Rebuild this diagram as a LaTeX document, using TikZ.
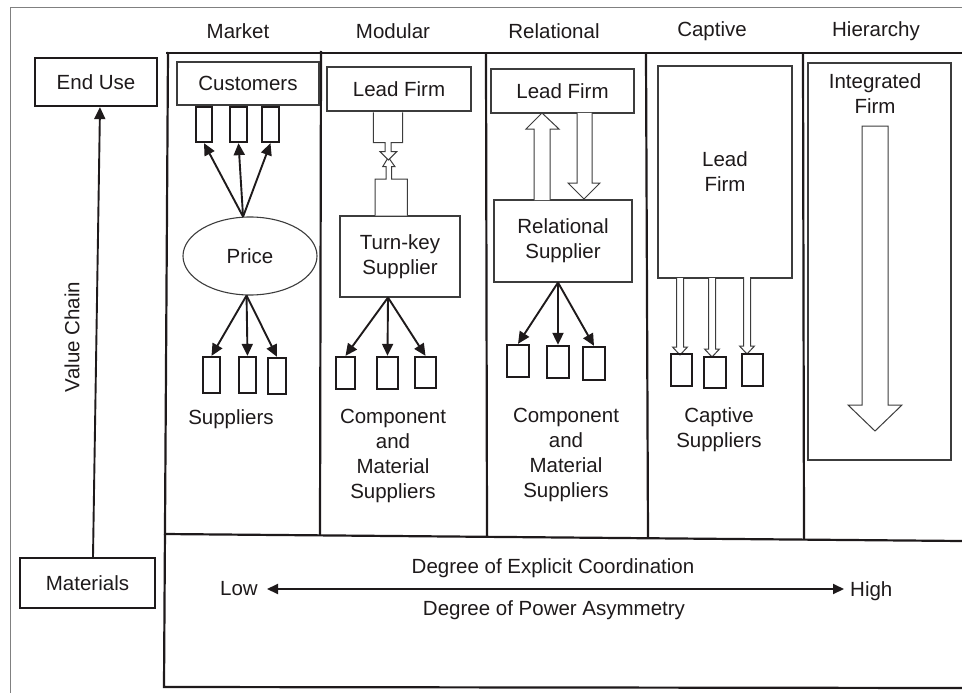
\documentclass[tikz,border=0pt]{standalone}
\usepackage{fontspec}
\setmainfont{Liberation Sans}
\usetikzlibrary{shapes.geometric,arrows.meta,calc}
\definecolor{ink}{HTML}{1E1A1B}
\definecolor{boxgray}{HTML}{3C3C3C}
\definecolor{framegray}{HTML}{808080}
\begin{document}
\begin{tikzpicture}[x=1pt,y=-1pt,
  font=\fontsize{20.5}{25}\selectfont,
  lbl/.style={inner sep=0pt, align=center, text=ink},
  thinbox/.style={draw=boxgray, line width=1.1pt, inner sep=0pt, align=center, fill=white, text=ink},
  thickbox/.style={draw=ink, line width=2.3pt, inner sep=0pt, align=center, text=ink},
  srect/.style={draw=ink, line width=2.3pt, inner sep=0pt, minimum width=18pt, minimum height=33pt},
  conn/.style={draw=ink, line width=1.9pt, -{Triangle[length=12pt,width=11pt]}},
  mainline/.style={draw=ink, line width=2.2pt},
  blockarrow/.style={draw=boxgray, line width=1pt, fill=white, line join=miter}
]
\useasboundingbox (0,0) rectangle (962,693);

% outer frame
\draw[framegray, line width=1pt] (10,693) -- (10,8) -- (962,8);

% main structure
\draw[mainline] (166,53) -- (962,53);
\draw[mainline] (168,52) -- (164,687) -- (962,688);
\draw[mainline] (164,534) -- (962,541);
\draw[mainline] (321,51) -- (320,535);
\draw[mainline] (486,53) -- (487,536);
\draw[mainline] (646,53) -- (648,538);
\draw[mainline] (803,53) -- (804,539);

% column headers
\node[lbl] (hmarket) at (238,31) {Market};
\node[lbl] (hmodular) at (393,31) {Modular};
\node[lbl] (hrelational) at (554,31) {Relational};
\node[lbl] (hcaptive) at (712,31) {Captive};
\node[lbl] (hhierarchy) at (876,31) {Hierarchy};

% left side: value chain
\node[thickbox, minimum width=122pt, minimum height=48pt] (enduse) at (96,82) {End Use};
\node[thickbox, minimum width=135pt, minimum height=50pt] (materials) at (87.5,583) {Materials};
\draw[conn] ($(materials.north)+(5.5,0)$) -- ($(enduse.south)+(4,0)$);
\node[lbl, rotate=90] (vc) at (72,337) {Value Chain};

% ---------- Market ----------
\node[thinbox, minimum width=142pt, minimum height=43pt] (cust) at (248,83.5) {Customers};
\node[srect, minimum width=16pt, minimum height=35pt] (mc1) at (204,124.5) {};
\node[srect, minimum width=17pt, minimum height=35pt] (mc2) at (238.5,124.5) {};
\node[srect, minimum width=17pt, minimum height=35pt] (mc3) at (270.5,124.5) {};
\node[ellipse, draw=boxgray, line width=1.1pt, inner sep=0pt, minimum width=134pt, minimum height=78pt, text=ink] (price) at (250,256) {Price};
\draw[conn] (price.100) -- (mc1.south);
\draw[conn] (price.100) -- (mc2.south);
\draw[conn] (price.100) -- (mc3.south);
\node[srect, minimum width=17pt, minimum height=36pt] (ms1) at (211.5,375) {};
\node[srect, minimum width=17pt, minimum height=36pt] (ms2) at (247.5,375) {};
\node[srect, minimum width=18pt, minimum height=36pt] (ms3) at (277,376) {};
\draw[conn] (price.265) -- (ms1.north);
\draw[conn] (price.265) -- (ms2.north);
\draw[conn] (price.265) -- (ms3.north);
\node[lbl] (msup) at (231,419) {Suppliers};

% ---------- Modular ----------
\node[thinbox, minimum width=144pt, minimum height=44pt] (mlead) at (399,89) {Lead Firm};
\node[thinbox, minimum width=120pt, minimum height=81pt] (turnkey) at (400,256.5) {Turn-key\\Supplier};
\draw[blockarrow] (375,215.7) -- (375,179) -- (386,179) -- (386,166.7) -- (382.7,166.7) -- (388.3,157.3) -- (395,166.7) -- (391.7,166.7) -- (391.7,179) -- (407.3,179) -- (407.3,215.7);
\draw[blockarrow] (373.3,112.3) -- (373.3,142.7) -- (385,142.7) -- (385,151.7) -- (380,151.7) -- (388.3,160) -- (396.7,151.7) -- (391,151.7) -- (391,142.7) -- (402.7,142.7) -- (402.7,112.3);
\node[srect, minimum width=19pt, minimum height=32pt] (mo1) at (345.5,373) {};
\node[srect, minimum width=21pt, minimum height=32pt] (mo2) at (387.5,373) {};
\node[srect, minimum width=21pt, minimum height=31pt] (mo3) at (425.5,372.5) {};
\draw[conn] ($(turnkey.south)+(-12,0)$) -- (mo1.north);
\draw[conn] ($(turnkey.south)+(-12,0)$) -- (mo2.north);
\draw[conn] ($(turnkey.south)+(-12,0)$) -- (mo3.north);
\node[lbl] (mocomp) at (393,456) {Component\\and\\Material\\Suppliers};

% ---------- Relational ----------
\node[thinbox, minimum width=143pt, minimum height=44pt] (rlead) at (562.5,91) {Lead Firm};
\node[thinbox, minimum width=138pt, minimum height=82pt] (rsup) at (563,241) {Relational\\Supplier};
\draw[blockarrow] (534,200) -- (534,129) -- (526,129) -- (542,113) -- (559,129) -- (550,129) -- (550,200);
\draw[blockarrow] (577,113) -- (577,183) -- (568,183) -- (584,199) -- (600,183) -- (592,183) -- (592,113);
\node[srect, minimum width=22pt, minimum height=32pt] (ro1) at (518,361) {};
\node[srect, minimum width=22pt, minimum height=32pt] (ro2) at (558,362) {};
\node[srect, minimum width=22pt, minimum height=33pt] (ro3) at (594,363.5) {};
\draw[conn] ($(rsup.south)+(-5,0)$) -- (ro1.north);
\draw[conn] ($(rsup.south)+(-5,0)$) -- (ro2.north);
\draw[conn] ($(rsup.south)+(-5,0)$) -- (ro3.north);
\node[lbl] (rocomp) at (566,455) {Component\\and\\Material\\Suppliers};

% ---------- Captive ----------
\node[thinbox, minimum width=134pt, minimum height=212pt] (clead) at (725,172) {Lead\\Firm};
\foreach \c/\a/\t in {680/278/355, 712/278/357, 747/277/354}{
  \draw[blockarrow] (\c-3.5,\a) -- (\c-3.5,\t-8) -- (\c-7.5,\t-8) -- (\c,\t) -- (\c+7.5,\t-8) -- (\c+3.5,\t-8) -- (\c+3.5,\a);
}
\node[srect, minimum width=21pt, minimum height=32pt] (co1) at (681.5,370) {};
\node[srect, minimum width=22pt, minimum height=31pt] (co2) at (715,372.5) {};
\node[srect, minimum width=21pt, minimum height=32pt] (co3) at (752.5,370) {};
\node[lbl] (capsup) at (719,430) {Captive\\Suppliers};

% ---------- Hierarchy ----------
\node[thinbox, minimum width=143pt, minimum height=397pt] (hfirm) at (879.5,261.5) {};
\node[lbl] (hfirmlbl) at (875,94) {Integrated\\Firm};
\draw[blockarrow] (862,126) -- (888,126) -- (888,405) -- (902,405) -- (875,431) -- (848,405) -- (862,405) -- cycle;

% ---------- bottom scale ----------
\node[lbl] (coord) at (553,568) {Degree of Explicit Coordination};
\node[lbl] (power) at (554,610) {Degree of Power Asymmetry};
\node[lbl, anchor=east] (low) at (258,589) {Low};
\node[lbl, anchor=west] (high) at (850,591) {High};
\draw[draw=ink, line width=2pt, {Triangle[length=11pt,width=10pt]}-{Triangle[length=11pt,width=10pt]}, shorten <=9pt, shorten >=6pt] (low.east) -- (low.east -| high.west);
\end{tikzpicture}
\end{document}
